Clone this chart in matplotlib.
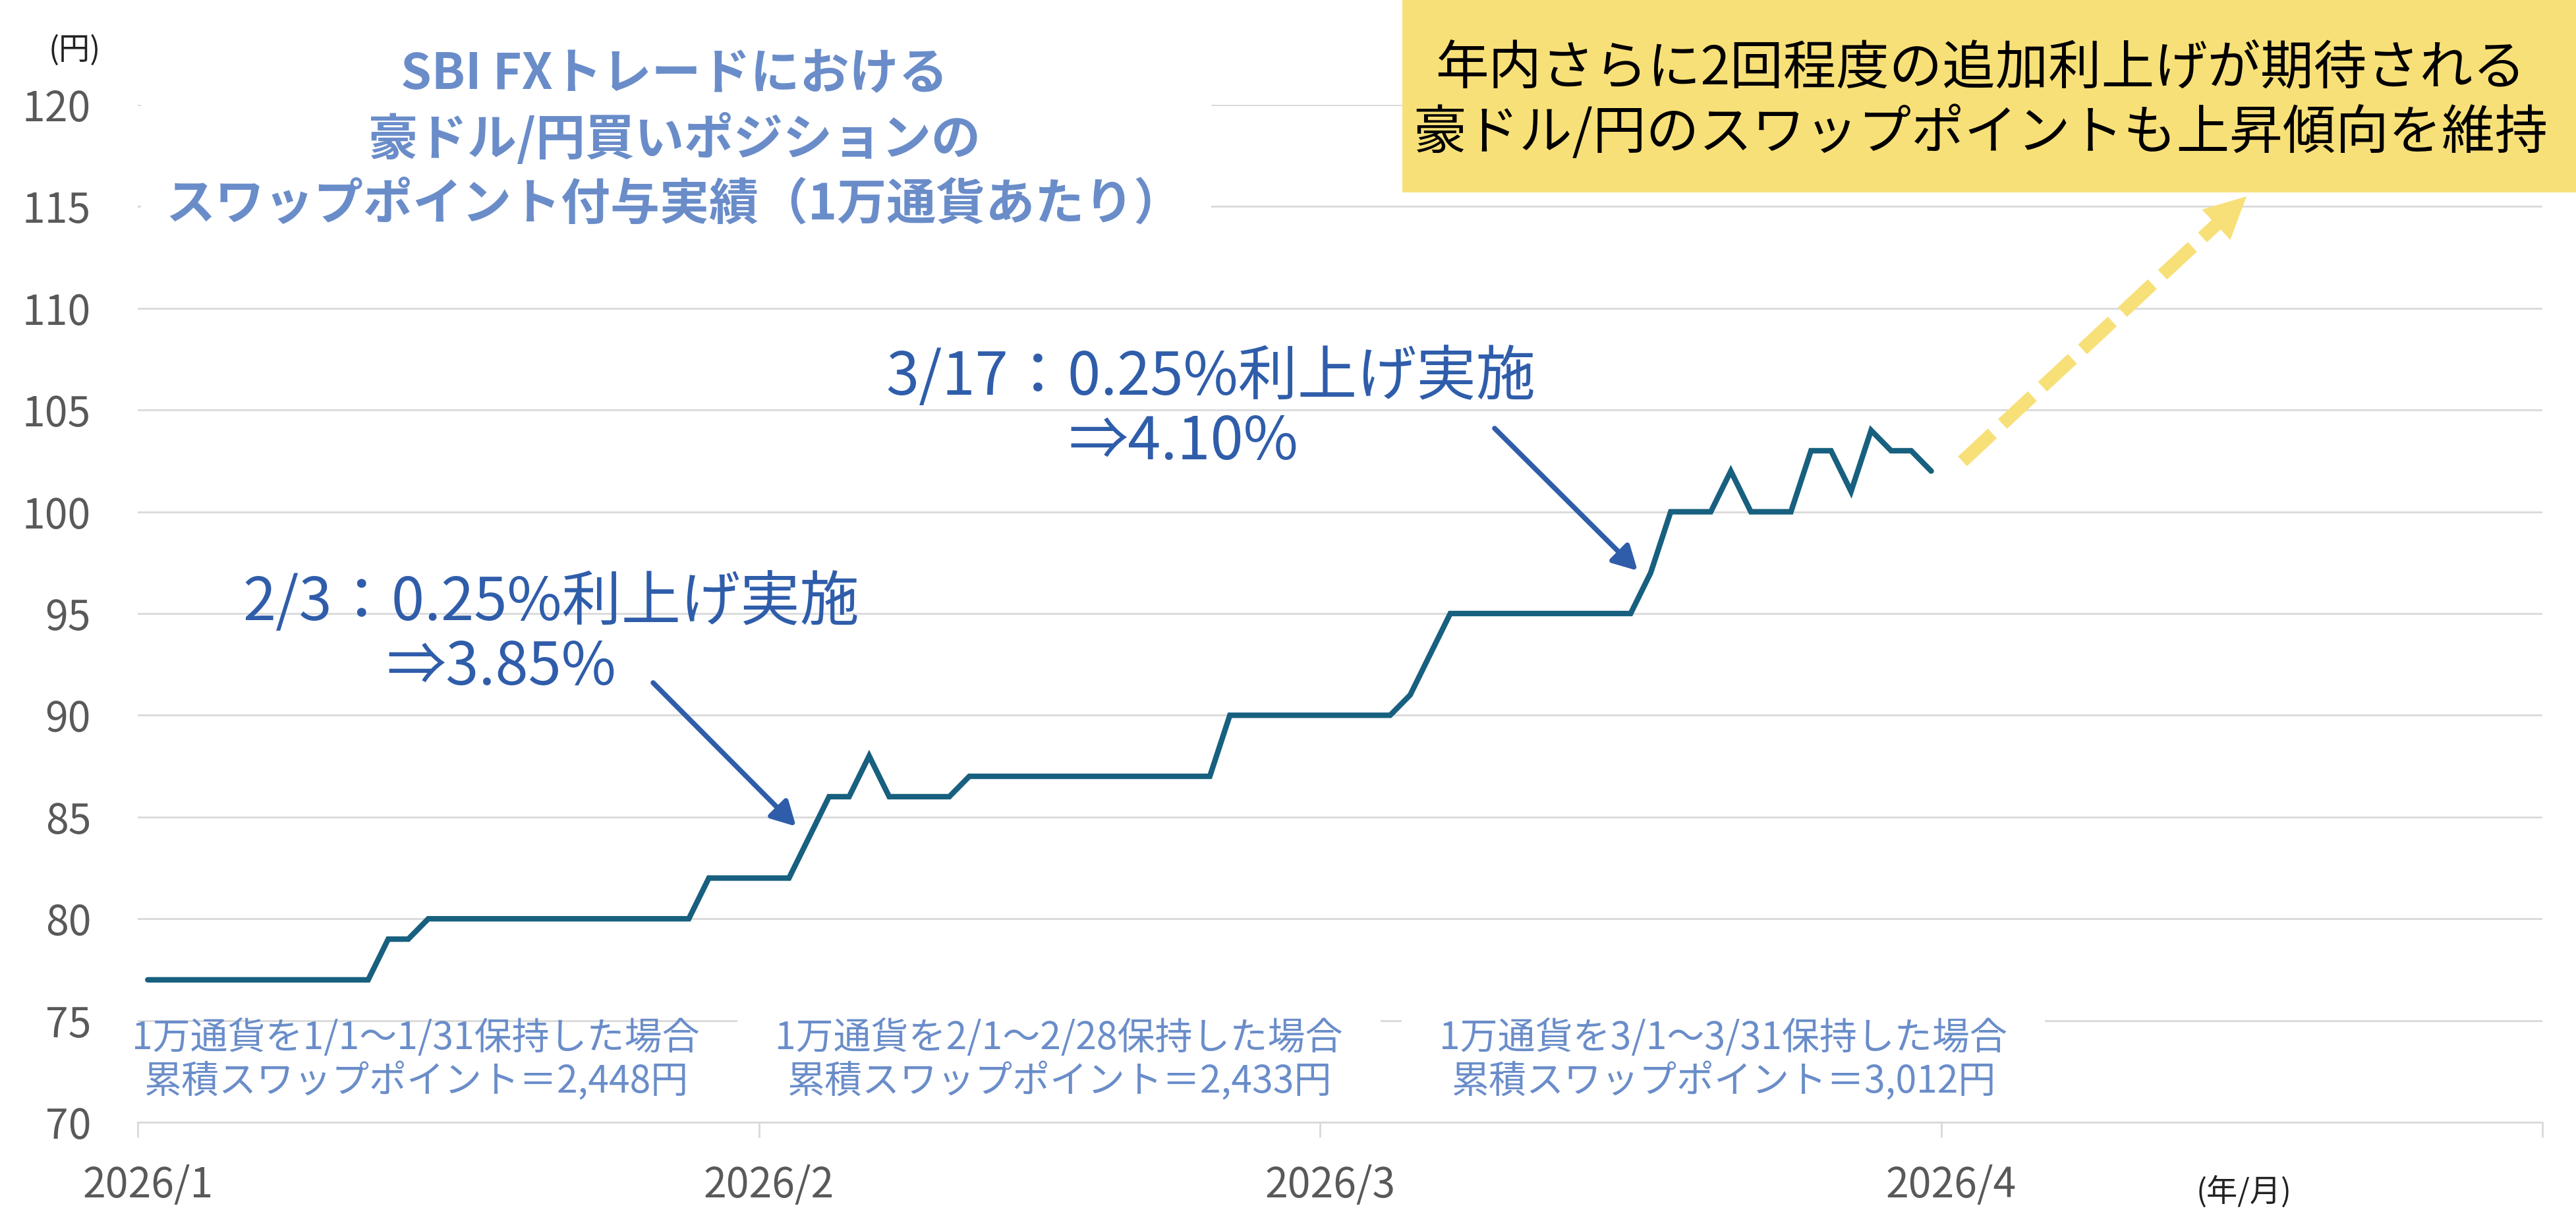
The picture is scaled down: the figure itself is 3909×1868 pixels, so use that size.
import numpy as np
import pandas as pd
import matplotlib
matplotlib.use("Agg")
import matplotlib.pyplot as plt
from matplotlib.patches import Rectangle, Polygon, FancyArrowPatch
from matplotlib.lines import Line2D

plt.rcParams['font.family'] = ['Noto Sans CJK JP', 'DejaVu Sans']

# daily swap points (yen per 10,000 AUD), Jan-Mar 2026
jan_values = [77, 77, 77, 77, 77, 77, 77, 77, 77, 77, 77, 77, 79, 79, 80, 80,
              80, 80, 80, 80, 80, 80, 80, 80, 80, 80, 80, 80, 82, 82, 82]
feb_values = [82, 82, 84, 86, 86, 88, 86, 86, 86, 86, 87, 87, 87, 87, 87, 87,
              87, 87, 87, 87, 87, 87, 87, 90, 90, 90, 90, 90]
mar_values = [90, 90, 90, 90, 91, 93, 95, 95, 95, 95, 95, 95, 95, 95, 95, 95,
              97, 100, 100, 100, 102, 100, 100, 100, 103, 103, 101, 104, 103, 103, 102]
values = jan_values + feb_values + mar_values
dates = pd.date_range("2026-01-01", periods=len(values), freq="D")

month_starts = pd.to_datetime(["2026-01-01", "2026-02-01", "2026-03-01",
                               "2026-04-01", "2026-05-01"])
month_labels = ["2026/1", "2026/2", "2026/3", "2026/4"]
y_ticks = [70, 75, 80, 85, 90, 95, 100, 105, 110, 115, 120]

title_lines = ["SBI FXトレードにおける", "豪ドル/円買いポジションの",
               "スワップポイント付与実績（1万通貨あたり）"]
box_lines = ["年内さらに2回程度の追加利上げが期待される",
             "豪ドル/円のスワップポイントも上昇傾向を維持"]
hike1 = ["2/3：0.25%利上げ実施", "⇒3.85%"]
hike2 = ["3/17：0.25%利上げ実施", "⇒4.10%"]
period_notes = [("1万通貨を1/1～1/31保持した場合", "累積スワップポイント＝2,448円"),
                ("1万通貨を2/1～2/28保持した場合", "累積スワップポイント＝2,433円"),
                ("1万通貨を3/1～3/31保持した場合", "累積スワップポイント＝3,012円")]

W, H = 3909, 1868
LINE = '#17607F'
GRID = '#D9D9D9'
TITLE_C = '#6A8DC9'
ANN_C = '#2F5DAA'
YELLOW = '#F8E078'


def fx(x):
    return x / W


def fy(y):
    return 1 - y / H


fig = plt.figure(figsize=(W / 100, H / 100), dpi=100)
ax = fig.add_axes([fx(209), fy(1703), (3858 - 209) / W, (1703 - 159) / H])

half_day = pd.Timedelta(hours=12)
ax.plot(dates + half_day, values, color=LINE, lw=6,
        solid_joinstyle='miter', solid_capstyle='round', zorder=3)

ax.set_xlim(month_starts[0], month_starts[-1])
ax.set_ylim(70, 120)
ax.set_yticks(y_ticks)
ax.yaxis.grid(True, color=GRID, lw=2)
ax.set_axisbelow(True)
for s in ['top', 'right', 'left']:
    ax.spines[s].set_visible(False)
ax.spines['bottom'].set_color(GRID)
ax.spines['bottom'].set_linewidth(2)

ax.set_xticks(month_starts)
ax.set_xticklabels([])
ax.set_xticks(month_starts[:-1] + half_day, month_labels, minor=True)
ax.tick_params(axis='x', which='major', length=16.5, width=2, color=GRID)
ax.tick_params(axis='x', which='minor', length=0, pad=46, labelsize=45,
               labelcolor='#595959')
ax.tick_params(axis='y', length=0, pad=51, labelsize=45, labelcolor='#595959')

# unit labels
fig.text(fx(113), fy(77), "(円)", fontsize=34, ha='center', va='center', color='#222222')
fig.text(fx(3405), fy(1810), "(年/月)", fontsize=34, ha='center', va='center', color='#222222')

# title with white background
fig.patches.append(Rectangle((fx(214), fy(355)), (1838 - 214) / W, 355 / H,
                             transform=fig.transFigure, facecolor='white',
                             edgecolor='none', zorder=1))
for i, t in enumerate(title_lines):
    fig.text(fx(1023), fy(113 + 98.5 * i), t, fontsize=54, fontweight='bold',
             ha='center', va='center', color=TITLE_C, zorder=2)

# yellow box
fig.patches.append(Rectangle((fx(2128), fy(292)), (W - 2128) / W, 292 / H,
                             transform=fig.transFigure, facecolor=YELLOW,
                             edgecolor='none', zorder=1))
for i, t in enumerate(box_lines):
    fig.text(fx(3005), fy(104 + 99 * i), t, fontsize=58, ha='center', va='center',
             color='black', zorder=2)

# rate hike notes
fig.text(fx(368), fy(916), hike1[0], fontsize=65, ha='left', va='center', color=ANN_C)
fig.text(fx(586), fy(1014), hike1[1], fontsize=65, ha='left', va='center', color=ANN_C)
fig.text(fx(1344), fy(574), hike2[0], fontsize=65, ha='left', va='center', color=ANN_C)
fig.text(fx(1621), fy(672), hike2[1], fontsize=65, ha='left', va='center', color=ANN_C)

for start, tip in [((991, 1036), (1208, 1254)), ((2268, 650), (2485, 866))]:
    fig.add_artist(FancyArrowPatch(
        (fx(start[0]), fy(start[1])), (fx(tip[0]), fy(tip[1])),
        transform=fig.transFigure, arrowstyle='-|>,head_length=1.1,head_width=0.6',
        mutation_scale=20, lw=5.5, color=ANN_C, shrinkA=0, shrinkB=0, zorder=4))

# dashed yellow outlook arrow
y_start = np.array([2978.0, 700.0])
y_tip = np.array([3409.0, 298.0])
d = (y_tip - y_start) / np.linalg.norm(y_tip - y_start)
nrm = np.array([-d[1], d[0]])
base = y_tip - d * 63
fig.add_artist(Line2D([fx(y_start[0]), fx(base[0] + d[0] * 5)],
                      [fy(y_start[1]), fy(base[1] + d[1] * 5)],
                      transform=fig.transFigure, color=YELLOW, lw=14.4,
                      dashes=(3.1, 1.05), dash_capstyle='butt', zorder=4))
head = [y_tip, base + nrm * 31.5, base - nrm * 31.5]
fig.add_artist(Polygon([(fx(p[0]), fy(p[1])) for p in head], closed=True,
                       transform=fig.transFigure, facecolor=YELLOW,
                       edgecolor='none', zorder=4))

# monthly cumulative notes
centers = [631, 1607, 2615]
for i, (l1, l2) in enumerate(period_notes):
    if i > 0:
        fig.patches.append(Rectangle((fx(centers[i] - 488), fy(1690)), 976 / W, 160 / H,
                                     transform=fig.transFigure, facecolor='white',
                                     edgecolor='none', zorder=1))
    fig.text(fx(centers[i]), fy(1576), l1, fontsize=41, ha='center', va='center',
             color=TITLE_C, zorder=2)
    fig.text(fx(centers[i]), fy(1641), l2, fontsize=41, ha='center', va='center',
             color=TITLE_C, zorder=2)

fig.savefig("out.png", dpi=100, facecolor='white')
